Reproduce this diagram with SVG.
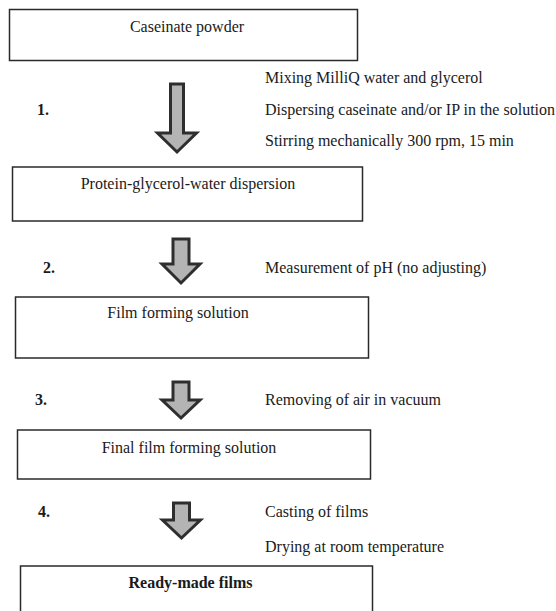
<svg xmlns="http://www.w3.org/2000/svg" width="556" height="611" viewBox="0 0 556 611">
<style>
.box{fill:#fff;stroke:#2a2a2a;stroke-width:1.5}
.t{font-family:"Liberation Serif","Times New Roman",serif;font-size:16px;fill:#1a1a1a}
.c{text-anchor:middle}
.b{font-weight:bold}
.arr{fill:#b4b4b4;stroke:#2e2e2e;stroke-width:3;stroke-linejoin:miter}
</style>
<rect width="556" height="611" fill="#fff"/>
<g id="n1"><rect class="box" x="9.5" y="9.5" width="348" height="51"/><text class="t c" x="187" y="32">Caseinate powder</text></g>
<g id="n2"><rect class="box" x="12.5" y="167" width="350" height="54"/><text class="t c" x="188" y="189">Protein-glycerol-water dispersion</text></g>
<g id="n3"><rect class="box" x="15.5" y="297" width="353" height="61"/><text class="t c" x="178" y="318">Film forming solution</text></g>
<g id="n4"><rect class="box" x="17.5" y="430" width="353" height="49"/><text class="t c" x="189" y="453">Final film forming solution</text></g>
<g id="n5"><rect class="box" x="20.5" y="566" width="352" height="60"/><text class="t c b" x="190.5" y="588" font-size="18">Ready-made films</text></g>
<g id="connectors">
<path class="arr" d="M170.5,84 H183.5 V133 H196.5 L177,152 L157.5,133 H170.5 Z"/>
<path class="arr" d="M173,239 H189 V264 H200 L181,283 L162,264 H173 Z"/>
<path class="arr" d="M173,382 H189 V400 H200 L181,418 L162,400 H173 Z"/>
<path class="arr" d="M173.5,503 H189.5 V520 H200.5 L181.5,538 L162.5,520 H173.5 Z"/>
</g>
<g id="labels">
<text class="t b" x="37" y="115">1.</text>
<text class="t" x="265" y="83">Mixing MilliQ water and glycerol</text>
<text class="t" x="265" y="115">Dispersing caseinate and/or IP in the solution</text>
<text class="t" x="265" y="146">Stirring mechanically 300 rpm, 15 min</text>
<text class="t b" x="43" y="273">2.</text>
<text class="t" x="265" y="273">Measurement of pH (no adjusting)</text>
<text class="t b" x="35" y="405">3.</text>
<text class="t" x="265" y="405">Removing of air in vacuum</text>
<text class="t b" x="38" y="517">4.</text>
<text class="t" x="265" y="517">Casting of films</text>
<text class="t" x="265" y="552">Drying at room temperature</text>
</g>
</svg>
